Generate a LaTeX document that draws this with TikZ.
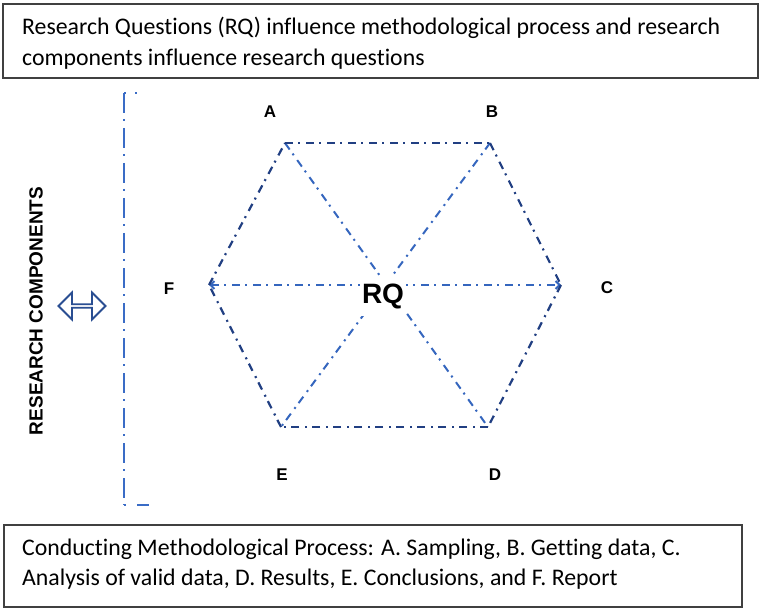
\documentclass[tikz,border=0pt]{standalone}
\usepackage{fontspec}
\setmainfont{Carlito}[Ligatures=CommonOff]
\newfontfamily\arialb{Liberation Sans}[BoldFont={Liberation Sans Bold}]
\usetikzlibrary{shapes.arrows,arrows.meta}
\definecolor{hexdark}{HTML}{213F82}
\definecolor{hexlight}{HTML}{3566BE}
\definecolor{brk}{HTML}{3A6CC6}
\definecolor{arrowc}{HTML}{2A4E92}
\definecolor{boxc}{HTML}{404040}
\tikzset{
  textbox/.style={draw=boxc, line width=1.2pt},
  boxtext/.style={anchor=base west, font=\fontsize{23.8}{30}\selectfont, inner sep=0pt},
  edge/.style={draw=hexdark, line width=2.2pt, dash pattern=on 8pt off 5pt on 2pt off 6pt},
  spoke/.style={draw=hexlight, line width=2pt, dash pattern=on 8pt off 5pt on 2pt off 6pt},
  vlabel/.style={font=\arialb\bfseries\fontsize{17}{19}\selectfont, inner sep=0pt},
  bracket/.style={draw=brk, line width=2.8pt, dash pattern=on 20pt off 6pt on 2pt off 7pt},
}
\begin{document}
\begin{tikzpicture}[x=1pt,y=-1pt]
\useasboundingbox (0,0) rectangle (765,612);
% text boxes
\draw[textbox] (3,4) rectangle (758,78);
\node[boxtext] (top1) at (22,35) {Research Questions (RQ) influence methodological process and research};
\node[boxtext] (top2) at (22,66) {components influence research questions};
\draw[textbox] (4,525) rectangle (742,607);
\node[boxtext] (bot1) at (22,555) {Conducting Methodological Process: A. Sampling, B. Getting data, C.};
\node[boxtext] (bot2) at (22,585) {Analysis of valid data, D. Results, E. Conclusions, and F. Report};
% hexagon vertices
\coordinate (A) at (285,143);
\coordinate (B) at (490,143);
\coordinate (C) at (561,285);
\coordinate (D) at (488,427);
\coordinate (E) at (281,427);
\coordinate (F) at (209,285);
% spokes
\draw[spoke] (A) -- (D);
\draw[spoke] (B) -- (E);
\draw[spoke, {Straight Barb[length=4pt,width=8pt]}-{Straight Barb[length=4pt,width=8pt]}] (F) -- (C);
% edges
\draw[edge] (A) -- (B);
\draw[edge] (B) -- (C);
\draw[edge] (C) -- (D);
\draw[edge] (D) -- (E);
\draw[edge] (E) -- (F);
\draw[edge] (F) -- (A);
% RQ
\node[fill=white, font=\arialb\bfseries\fontsize{28}{30}\selectfont, inner sep=0pt, minimum width=46pt, minimum height=40pt] (rq) at (383,296) {RQ};
% vertex labels
\node[vlabel] (la) at (270,112) {A};
\node[vlabel] (lb) at (492,112) {B};
\node[vlabel] (lc) at (607,288) {C};
\node[vlabel] (ld) at (495,475) {D};
\node[vlabel] (le) at (282,475) {E};
\node[vlabel] (lf) at (169,289) {F};
% bracket
\coordinate (bt) at (124,93);
\coordinate (bb) at (124,505);
\coordinate (btr) at (150,93);
\coordinate (bbr) at (150,505);
\draw[bracket] (bt) -- (bb);
\draw[draw=brk, line width=2.8pt, dash pattern=on 2pt off 9pt on 2pt off 20pt] (bt) -- (btr);
\draw[draw=brk, line width=2.8pt, dash pattern=on 2pt off 11pt on 12pt off 20pt] (bb) -- (bbr);
% double arrow
\node[double arrow, draw=arrowc, line width=1.8pt, fill=white, minimum width=27pt, minimum height=47pt, double arrow head extend=6pt, double arrow head indent=0pt, inner sep=0pt, text width=0pt] (darr) at (82,306) {};
% side label
\node[rotate=90, font=\arialb\bfseries\fontsize{19}{22}\selectfont, inner sep=0pt] (rc) at (36,311) {RESEARCH COMPONENTS};
\end{tikzpicture}
\end{document}
